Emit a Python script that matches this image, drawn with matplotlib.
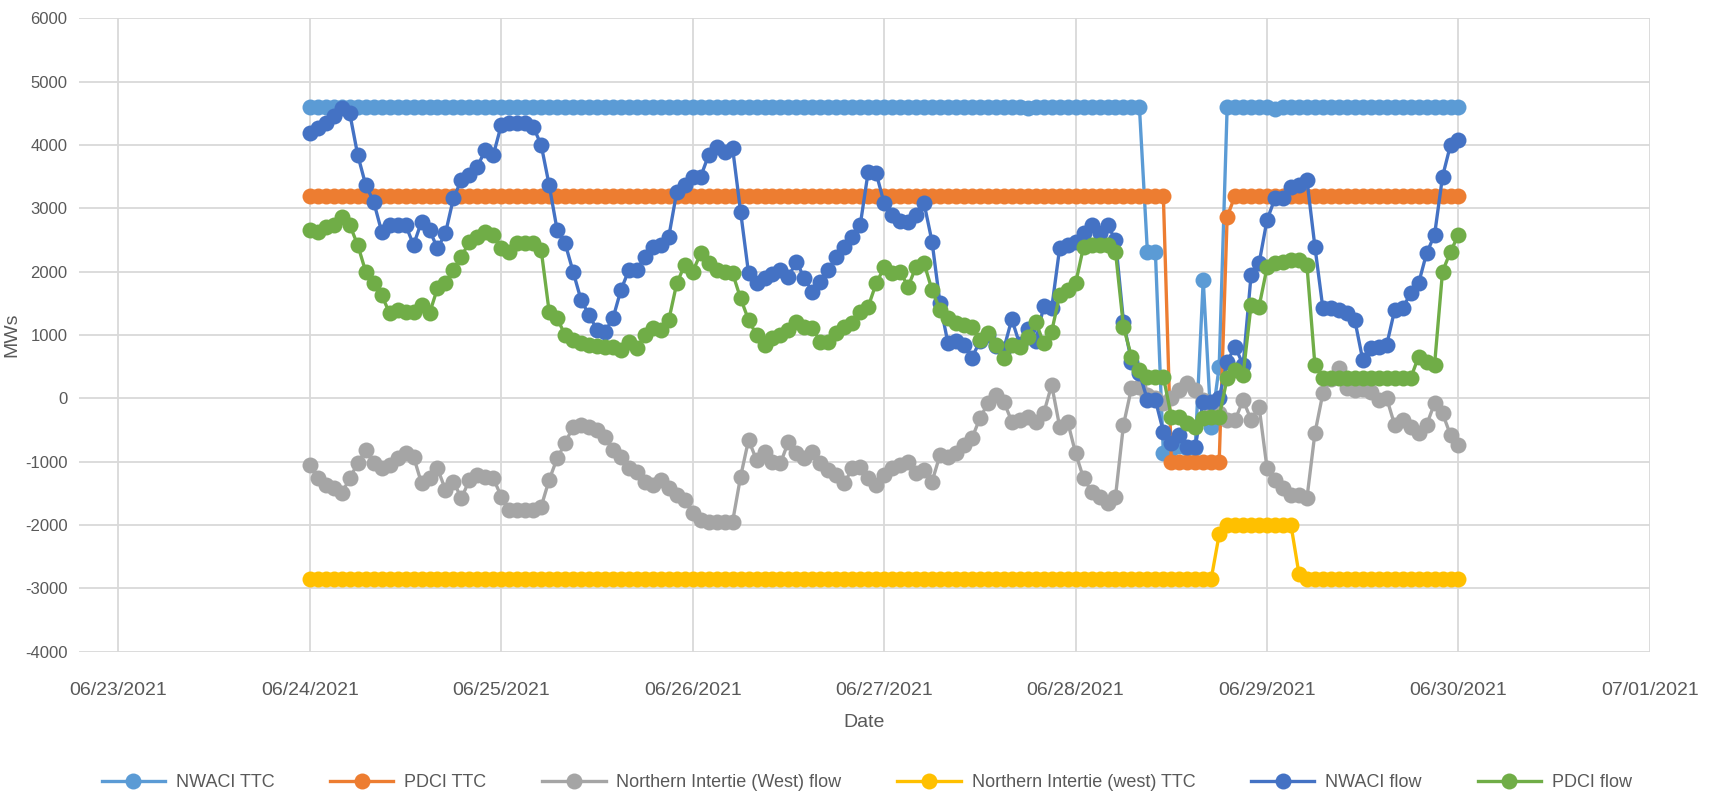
import matplotlib
matplotlib.use("Agg")
import matplotlib.pyplot as plt
import matplotlib.dates as mdates
import pandas as pd

# hourly readings, 06/24/2021 00:00 .. 06/30/2021 00:00
times = pd.date_range("2021-06-24 00:00", "2021-06-30 00:00", freq="h")

nwaci_ttc = ([4600] * 24 * 3 +
             [4600] * 18 + [4580] + [4600] * 5 +
             [4600] * 9 + [2316, 2316, -868, -800, -750, -780, -780, 1868, -447, 500] + [4600] * 5 +
             [4600, 4570] + [4600] * 22 + [4600])

pdci_ttc = ([3200] * 24 * 4 +
            [3200] * 12 + [-1000] * 7 + [2868] + [3200] * 4 +
            [3200] * 24 + [3200])

ni_west_flow = [
    -1053, -1263, -1368, -1421, -1500, -1263, -1026, -816, -1026, -1105, -1053, -947,
    -868, -921, -1342, -1263, -1105, -1447, -1316, -1579, -1289, -1211, -1237, -1263,
    -1553, -1763, -1763, -1763, -1763, -1711, -1289, -947, -711, -447, -421, -447,
    -500, -605, -816, -921, -1105, -1158, -1316, -1368, -1289, -1421, -1526, -1605,
    -1816, -1921, -1947, -1947, -1947, -1947, -1237, -658, -974, -842, -1000, -1026,
    -684, -868, -947, -842, -1026, -1132, -1211, -1342, -1105, -1079, -1263, -1368,
    -1211, -1105, -1053, -1000, -1184, -1132, -1316, -895, -921, -868, -737, -632,
    -316, -79, 53, -53, -368, -342, -289, -368, -237, 211, -447, -368,
    -868, -1263, -1474, -1553, -1658, -1553, -421, 158, 184, 53, 0, -79,
    0, 132, 237, 132, -26, -132, -237, -342, -342, -26, -342, -132,
    -1105, -1289, -1421, -1526, -1526, -1579, -553, 79, 300, 474, 158, 132,
    150, 105, -26, 0, -421, -342, -447, -553, -421, -79, -237, -579,
    -737]

ni_west_ttc = ([-2850] * 24 * 4 +
               [-2850] * 18 + [-2150] + [-2000] * 5 +
               [-2000] * 4 + [-2770] + [-2850] * 19 + [-2850])

nwaci_flow = [
    4184, 4260, 4350, 4450, 4579, 4500, 3842, 3368, 3105, 2632, 2737, 2737,
    2737, 2421, 2789, 2658, 2368, 2605, 3158, 3447, 3526, 3658, 3921, 3842,
    4316, 4342, 4353, 4342, 4289, 4000, 3368, 2658, 2447, 2000, 1553, 1316,
    1079, 1053, 1263, 1711, 2026, 2026, 2237, 2395, 2421, 2553, 3263, 3368,
    3500, 3500, 3842, 3974, 3895, 3947, 2947, 1974, 1816, 1895, 1963, 2026,
    1921, 2158, 1895, 1684, 1842, 2026, 2237, 2395, 2553, 2737, 3579, 3553,
    3079, 2900, 2800, 2789, 2895, 3079, 2474, 1500, 870, 900, 840, 640,
    900, 1000, 830, 780, 1250, 850, 1100, 900, 1450, 1420, 2370, 2420,
    2474, 2605, 2737, 2605, 2737, 2500, 1211, 580, 400, -26, -26, -526,
    -700, -579, -763, -763, -53, -53, 0, 579, 816, 526, 1947, 2132,
    2816, 3158, 3158, 3342, 3368, 3447, 2395, 1421, 1421, 1395, 1342, 1237,
    605, 789, 816, 842, 1395, 1421, 1658, 1816, 2289, 2579, 3500, 4000,
    4079]

pdci_flow = [
    2658, 2632, 2711, 2737, 2868, 2737, 2421, 2000, 1816, 1632, 1342, 1395,
    1368, 1368, 1474, 1342, 1737, 1816, 2026, 2237, 2474, 2553, 2632, 2579,
    2368, 2316, 2447, 2447, 2447, 2342, 1368, 1263, 1000, 921, 868, 842,
    826, 816, 816, 763, 895, 789, 1000, 1105, 1079, 1237, 1816, 2105,
    2000, 2289, 2132, 2026, 2000, 1974, 1579, 1237, 1000, 842, 947, 1000,
    1079, 1211, 1132, 1105, 895, 895, 1026, 1132, 1184, 1368, 1447, 1816,
    2066, 1974, 2000, 1763, 2079, 2132, 1711, 1395, 1263, 1184, 1158, 1132,
    921, 1026, 842, 632, 842, 816, 974, 1211, 868, 1053, 1632, 1711,
    1816, 2395, 2421, 2421, 2421, 2316, 1132, 658, 447, 342, 342, 342,
    -289, -289, -395, -447, -316, -289, -289, 316, 447, 368, 1474, 1447,
    2066, 2132, 2158, 2184, 2184, 2105, 526, 316, 316, 316, 316, 316,
    316, 316, 316, 316, 316, 316, 316, 658, 579, 526, 2000, 2316,
    2579]

series = [
    ("NWACI TTC", nwaci_ttc, "#5B9BD5"),
    ("PDCI TTC", pdci_ttc, "#ED7D31"),
    ("Northern Intertie (West) flow", ni_west_flow, "#A5A5A5"),
    ("Northern Intertie (west) TTC", ni_west_ttc, "#FFC000"),
    ("NWACI flow", nwaci_flow, "#4472C4"),
    ("PDCI flow", pdci_flow, "#70AD47"),
]

plt.rcParams["font.family"] = ["Liberation Sans", "DejaVu Sans"]
plt.rcParams["axes.unicode_minus"] = False

fig = plt.figure(figsize=(17.11, 8.02), dpi=100)
ax = fig.add_axes([0.0459, 0.1875, 0.9184, 0.7897])

for name, vals, col in series:
    ax.plot(times, vals, color=col, lw=2.4, marker="o", ms=11.5,
            markeredgewidth=0, label=name)

ax.set_ylim(-4000, 6000)
ax.set_yticks(range(-4000, 6001, 1000))
ax.set_xlim(pd.Timestamp("2021-06-22 19:00"), pd.Timestamp("2021-07-01"))
ax.set_xticks(pd.date_range("2021-06-23", "2021-07-01", freq="D"))
ax.xaxis.set_major_formatter(mdates.DateFormatter("%m/%d/%Y"))

ax.grid(True, color="#D9D9D9", lw=1.3)
ax.set_axisbelow(True)
for s in ax.spines.values():
    s.set_visible(False)
ax.tick_params(length=0, labelcolor="#595959")
ax.tick_params(axis="y", labelsize=12, pad=8)
ax.tick_params(axis="x", labelsize=14, pad=22)

ax.set_ylabel("MWs", fontsize=14, color="#595959", labelpad=3)
ax.set_xlabel("Date", fontsize=14, color="#595959", labelpad=11)

fig.legend(loc="center", bbox_to_anchor=(0.5065, 0.024), ncol=6, frameon=False,
           fontsize=13, handlelength=3.5, columnspacing=3.1, handletextpad=0.6,
           labelcolor="#595959")

fig.savefig("out.png", dpi=100)
